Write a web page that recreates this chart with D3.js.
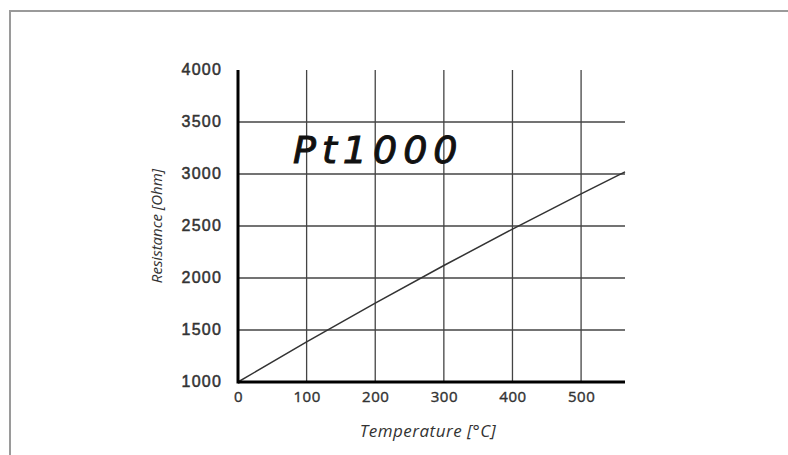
<!DOCTYPE html>
<html>
<head>
<meta charset="utf-8">
<style>
  body { margin: 0; background: #fff; }
  svg { display: block; }
  .title { font-family: "Open Sans", sans-serif; font-style: italic; font-size: 17px; letter-spacing: 0.5px; fill: #333; }
</style>
</head>
<body>
<svg width="788" height="455"></svg>
<script src="https://d3js.org/d3.v7.min.js"></script>
<script>
// values
var temps = [0, 100, 200, 300, 400, 500, 564];
var resist = [1000, 1385, 1758, 2120, 2470, 2809, 3020];
var xTicks = [0, 100, 200, 300, 400, 500];
var yTicks = [1000, 1500, 2000, 2500, 3000, 3500, 4000];

var svg = d3.select('svg');

// frame
svg.append('path')
  .attr('d', 'M10,460V11H800')
  .attr('fill', 'none')
  .attr('stroke', '#9a9a9a')
  .attr('stroke-width', 2);

var x = d3.scaleLinear().domain([0, 564]).range([238, 625]);
var y = d3.scaleLinear().domain([1000, 4000]).range([382, 70]);

// grid
svg.append('g').selectAll('line').data(xTicks.slice(1)).enter().append('line')
  .attr('x1', function(d) { return x(d); }).attr('x2', function(d) { return x(d); })
  .attr('y1', y(4000)).attr('y2', y(1000))
  .attr('stroke', '#444').attr('stroke-width', 1.3);
svg.append('g').selectAll('line').data(yTicks.slice(1, -1)).enter().append('line')
  .attr('x1', x(0)).attr('x2', x(564))
  .attr('y1', function(d) { return y(d); }).attr('y2', function(d) { return y(d); })
  .attr('stroke', '#444').attr('stroke-width', 1.3);

// curve
svg.append('path')
  .datum(temps.map(function(t, i) { return [t, resist[i]]; }))
  .attr('fill', 'none')
  .attr('stroke', '#333')
  .attr('stroke-width', 1.5)
  .attr('d', d3.line().x(function(d) { return x(d[0]); }).y(function(d) { return y(d[1]); }));

// axes
var xAxis = d3.axisBottom(x).tickValues(xTicks).tickFormat(d3.format('d')).tickSize(0).tickPadding(9);
var yAxis = d3.axisLeft(y).tickValues(yTicks).tickFormat(d3.format('d')).tickSize(0).tickPadding(16);

var gx = svg.append('g').attr('transform', 'translate(0,' + y(1000) + ')').call(xAxis)
  .attr('font-family', '"Open Sans", sans-serif').attr('font-size', 15);
gx.select('.domain').remove();
gx.selectAll('.tick text').attr('fill', '#333').style('letter-spacing', '0.5px')
  .style('stroke', '#333').style('stroke-width', '0.4px');

var gy = svg.append('g').attr('transform', 'translate(' + x(0) + ',0)').call(yAxis)
  .attr('font-family', '"Liberation Sans", Arial, sans-serif').attr('font-size', 16);
gy.select('.domain').remove();
gy.selectAll('.tick text').attr('fill', '#333').attr('dy', '0.3em').style('letter-spacing', '1.2px')
  .style('stroke', '#333').style('stroke-width', '0.5px');

svg.append('line')
  .attr('x1', x(0)).attr('x2', x(564))
  .attr('y1', y(1000)).attr('y2', y(1000))
  .attr('stroke', '#000').attr('stroke-width', 3);
svg.append('line')
  .attr('x1', x(0)).attr('x2', x(0))
  .attr('y1', y(4000)).attr('y2', y(1000) + 1.5)
  .attr('stroke', '#000').attr('stroke-width', 3);

// titles
svg.append('text').attr('class', 'title')
  .attr('x', 428).attr('y', 437)
  .attr('text-anchor', 'middle')
  .text('Temperature [°C]');
svg.append('text').attr('class', 'title')
  .attr('transform', 'translate(162,226) rotate(-90)')
  .attr('text-anchor', 'middle')
  .style('font-size', '15px')
  .style('letter-spacing', '0px')
  .text('Resistance [Ohm]');

svg.append('text')
  .attr('x', 293).attr('y', 163)
  .style('font-family', '"DejaVu Sans", sans-serif')
  .style('font-style', 'italic')
  .style('font-size', '38px')
  .style('letter-spacing', '6px')
  .style('fill', '#111')
  .style('stroke', '#111')
  .style('stroke-width', '1px')
  .text('Pt1000');
</script>
</body>
</html>
